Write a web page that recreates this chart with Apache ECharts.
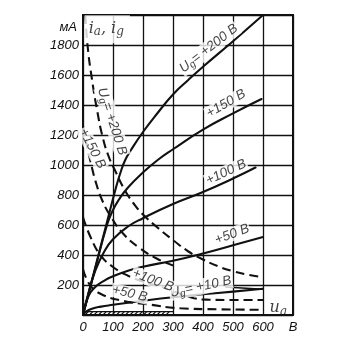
<!DOCTYPE html>
<html>
<head>
<meta charset="utf-8">
<script src="https://cdn.jsdelivr.net/npm/echarts@6/dist/echarts.min.js"></script>
<style>
  html, body { margin: 0; padding: 0; background: #fff; }
  #chart { width: 340px; height: 344px; }
</style>
</head>
<body>
<div id="chart"></div>
<script>
// Anode-voltage axis (V) and current axis (mA)
const voltTicks = [0, 100, 200, 300, 400, 500, 600, 700];
const currentTicks = [0, 200, 400, 600, 800, 1000, 1200, 1400, 1600, 1800, 2000];

// Anode current i_a versus u_a, one curve per grid voltage
const anode200 = [[0,0],[40,310],[80,620],[110,850],[125,950],[140,1030],[160,1100],[200,1220],[250,1350],[300,1470],[350,1565],[400,1655],[500,1825],[600,2000]];
const anode150 = [[0,0],[40,305],[80,600],[100,700],[120,770],[150,850],[200,950],[250,1035],[300,1105],[400,1236],[500,1344],[595,1440]];
const anode100 = [[0,0],[20,160],[40,290],[70,420],[100,505],[150,590],[200,645],[300,740],[400,820],[500,910],[575,983]];
const anode50  = [[0,0],[15,110],[40,185],[70,228],[100,258],[150,295],[200,322],[300,362],[400,410],[500,465],[600,520]];
const anode10  = [[0,0],[10,22],[30,42],[60,56],[100,68],[150,82],[200,95],[300,118],[400,138],[500,156],[600,175]];

// Grid current i_g versus u_a
const grid200 = [[8,2000],[15,1800],[30,1570],[47,1365],[65,1190],[85,1060],[110,950],[140,830],[170,740],[200,670],[250,580],[300,500],[350,425],[400,370],[450,325],[500,292],[550,268],[600,252]];
const grid150 = [[0,1260],[12,1140],[24,1031],[45,870],[65,760],[91,662],[135,540],[190,445],[247,375],[300,330]];
const grid100 = [[0,651],[25,520],[58,400],[100,320],[150,262],[213,215],[258,190],[320,145],[370,112],[420,102],[500,100],[600,100]];
const grid50  = [[0,305],[24,198],[58,142],[124,98],[213,72],[325,45],[450,38],[600,35]];

// Hatched strip along the voltage axis: [u_a from, u_a to, i from, i to]
const hatchBand = [[0, 300, 0, 22]];

// Leader from the "+10 В" label to its curve
const leader10 = [[474,187],[600,172]];

// Curve captions: text, anchor (u_a, i), rotation
const captions = [
  { text: '{u|U}{s|g}{u|= +200 В}', at: [419, 1777], rot: 38 },
  { text: '+150 В', at: [477, 1409], rot: 30 },
  { text: '+100 В', at: [477, 952],  rot: 25 },
  { text: '+50 В',  at: [497, 538],  rot: 21 },
  { text: '{u|U}{s|g}{u|= +10 В}', at: [392, 188], rot: 12 },
  { text: '+100 В', at: [233, 231],  rot: -21 },
  { text: '+50 В',  at: [156, 142],  rot: -13 },
  { text: '{u|U}{s|g}{u|= +200 В}', at: [97, 1290], rot: -72 },
  { text: '+150 В', at: [31, 1110],  rot: -63 }
];

const chart = echarts.init(document.getElementById('chart'));
const FONT = "'Liberation Sans', 'DejaVu Sans', sans-serif";
const SERIF = "'DejaVu Serif', serif";

function solid(data) {
  return { type: 'line', data, smooth: 0.5, symbol: 'none', silent: true,
    lineStyle: { color: '#111', width: 2.1, cap: 'round', join: 'round' }, z: 4 };
}
function dashed(data) {
  return { type: 'line', data, smooth: 0.5, symbol: 'none', silent: true,
    lineStyle: { color: '#111', width: 2.1, type: [9, 5] }, z: 4 };
}

const richText = {
  u: { fontFamily: FONT, fontStyle: 'italic', fontSize: 13.5, color: '#111' },
  s: { fontFamily: FONT, fontStyle: 'italic', fontSize: 10, color: '#111', verticalAlign: 'bottom', padding: [6, 0, 0, 0] }
};
const symbolText = {
  i: { fontFamily: SERIF, fontStyle: 'italic', fontSize: 16, color: '#111' },
  s: { fontFamily: SERIF, fontStyle: 'italic', fontSize: 12, color: '#111', verticalAlign: 'bottom', padding: [7, 0, 0, 0] }
};

const option = {
  animation: false,
  backgroundColor: '#fff',
  grid: { left: 83, right: 47, top: 15, bottom: 29, show: true, borderColor: '#111', borderWidth: 2 },
  xAxis: {
    type: 'value', min: 0, max: 700, interval: 100,
    axisLine: { show: false }, axisTick: { show: false },
    splitLine: { show: true, lineStyle: { color: '#111', width: 1.3 } },
    axisLabel: {
      margin: 6, color: '#111', fontFamily: FONT, fontStyle: 'italic', fontSize: 13,
      formatter: v => (v === 700 ? 'В' : String(v)),
      showMaxLabel: true
    }
  },
  yAxis: {
    type: 'value', min: 0, max: 2000, interval: 200,
    name: 'мА', nameLocation: 'end', nameGap: -12,
    nameTextStyle: { align: 'right', verticalAlign: 'middle', padding: [0, 6, 0, 0], color: '#111',
      fontFamily: FONT, fontStyle: 'italic', fontSize: 13 },
    axisLine: { show: false }, axisTick: { show: false },
    splitLine: { show: true, lineStyle: { color: '#111', width: 1.3 } },
    axisLabel: {
      margin: 4, color: '#111', fontFamily: FONT, fontStyle: 'italic', fontSize: 13,
      formatter: v => (v === 0 || v === 2000 ? '' : String(v))
    }
  },
  series: [
    {
      type: 'custom', silent: true, z: 3,
      data: hatchBand,
      renderItem: function (params, api) {
        const a = api.coord([api.value(0), api.value(2)]);
        const b = api.coord([api.value(1), api.value(3)]);
        const children = [{ type: 'line', shape: { x1: a[0], y1: b[1], x2: b[0], y2: b[1] },
          style: { stroke: '#111', lineWidth: 1.2 } }];
        const h = a[1] - b[1];
        for (let x = a[0] + 2; x + h <= b[0]; x += 4.5) {
          children.push({ type: 'line', shape: { x1: x, y1: a[1], x2: x + h, y2: b[1] },
            style: { stroke: '#111', lineWidth: 1.2 } });
        }
        return { type: 'group', children };
      }
    },
    solid(anode200), solid(anode150), solid(anode100), solid(anode50), solid(anode10),
    dashed(grid200), dashed(grid150), dashed(grid100), dashed(grid50),
    { type: 'line', data: leader10, symbol: 'none', silent: true, lineStyle: { color: '#111', width: 1.6 }, z: 4 },
    {
      type: 'scatter', symbolSize: 0, silent: true, z: 10,
      data: captions.map(c => ({
        value: c.at,
        label: {
          show: true, position: 'inside', formatter: c.text, rotate: c.rot,
          fontFamily: FONT, fontStyle: 'italic', fontSize: 13.5, color: '#111',
          backgroundColor: '#fff', padding: [0, 1], rich: richText
        }
      }))
    },
    {
      type: 'scatter', symbolSize: 0, silent: true, z: 10,
      data: [
        { value: [81, 1905], label: { show: true, position: 'inside', formatter: '{i|i}{s|a}{i|, i}{s|g}',
          backgroundColor: '#fff', padding: [4, 6, 5, 4], rich: symbolText } },
        { value: [651, 45], label: { show: true, position: 'inside', formatter: '{i|u}{s|a}', rich: symbolText } }
      ]
    }
  ]
};
chart.setOption(option);
</script>
</body>
</html>
